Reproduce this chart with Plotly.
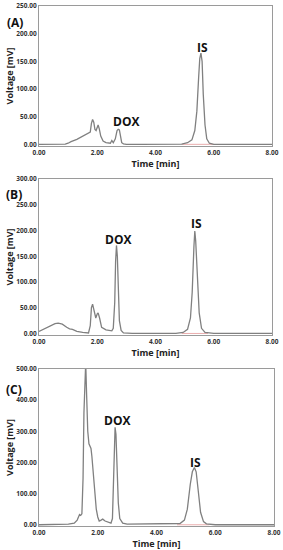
import plotly.graph_objects as go

# ---------------- data ----------------
time_a = [0, 0.5, 0.9, 1.0, 1.1, 1.3, 1.5, 1.7, 1.76, 1.8, 1.84, 1.88, 1.92, 1.96, 2.0, 2.03, 2.07, 2.12,
          2.2, 2.3, 2.45, 2.5, 2.55, 2.62, 2.68, 2.72, 2.76, 2.8, 2.84, 2.9, 3.0, 3.5, 4.0, 4.5, 4.9, 5.1,
          5.25, 5.35, 5.42, 5.48, 5.52, 5.56, 5.6, 5.64, 5.7, 5.76, 5.85, 6.0, 7.0, 8.0]
volt_a = [0, 0, 0.5, 2, 5, 9, 14, 19, 22, 38, 45, 40, 27, 25, 33, 35, 28, 15,
          6, 3, 2, 7, 3, 10, 25, 27, 26, 15, 3, 1, 0, 0, 0, 0, 0.5, 3,
          8, 25, 60, 120, 155, 165, 150, 90, 35, 10, 2, 0, 0, 0]

time_b = [0, 0.2, 0.4, 0.55, 0.66, 0.8, 0.95, 1.05, 1.15, 1.3, 1.5, 1.7, 1.76, 1.8, 1.84, 1.9, 1.95, 2.0,
          2.03, 2.08, 2.15, 2.3, 2.5, 2.55, 2.6, 2.63, 2.66, 2.69, 2.72, 2.76, 2.82, 2.9, 3.2, 4.0, 4.7,
          4.95, 5.1, 5.2, 5.26, 5.32, 5.35, 5.38, 5.43, 5.5, 5.58, 5.7, 6.0, 8.0]
volt_b = [4, 9, 15, 19, 20, 18, 12, 9, 8, 4, 2, 1, 15, 50, 57, 45, 30, 38,
          40, 30, 12, 7, 5, 10, 60, 140, 171, 150, 80, 25, 6, 1, 0, 0, 0,
          2, 8, 30, 80, 170, 199, 180, 110, 40, 10, 2, 0, 0]

time_c = [0, 0.8, 1.0, 1.2, 1.3, 1.38, 1.42, 1.46, 1.5, 1.53, 1.56, 1.59, 1.62, 1.66, 1.7, 1.74, 1.77, 1.8,
          1.85, 1.9, 1.95, 2.0, 2.05, 2.1, 2.17, 2.25, 2.35, 2.45, 2.5, 2.53, 2.56, 2.59, 2.62, 2.66, 2.7,
          2.75, 2.85, 3.0, 3.5, 4.0, 4.5, 4.8, 4.95, 5.05, 5.15, 5.22, 5.29, 5.35, 5.42, 5.5, 5.6, 5.7, 6.0, 8.0]
volt_c = [0, 0, 2, 5, 15, 33, 30, 35, 150, 360, 520, 520, 420, 300, 260, 250, 245, 220,
          160, 100, 50, 25, 12, 14, 18, 12, 8, 5, 20, 120, 250, 313, 290, 180, 70,
          20, 5, 2, 2, 3, 2, 4, 15, 50, 130, 170, 184, 170, 110, 40, 10, 3, 0, 0]

# integration baselines (faint red)
base_a_t = [4.9, 6.0]
base_b_t = [4.9, 5.8]
base_c_t = [4.7, 5.8]
base_v = [0, 0]

panel_labels = ["(A)", "(B)", "(C)"]
y_ranges = [[-3, 250], [-3, 300], [-4, 500]]
y_dticks = [50, 50, 100]
x_ticks = [0, 2, 4, 6, 8]

W, H = 283, 550

def px(x):
    return x / W

def py(y):
    return 1 - y / H

fig = go.Figure()

line_col = "#808080"
series = [(time_a, volt_a, base_a_t), (time_b, volt_b, base_b_t), (time_c, volt_c, base_c_t)]
for i, (t, v, bt) in enumerate(series):
    ax = "" if i == 0 else str(i + 1)
    fig.add_trace(go.Scatter(x=bt, y=base_v, mode="lines", xaxis="x" + ax, yaxis="y" + ax,
                             line=dict(color="rgba(220,120,120,0.6)", width=1), hoverinfo="skip",
                             showlegend=False))
    fig.add_trace(go.Scatter(x=t, y=v, mode="lines", xaxis="x" + ax, yaxis="y" + ax,
                             line=dict(color=line_col, width=1.3), showlegend=False))

# panel frames in pixels: (left, top, right, bottom)
frames = [(39, 6, 272, 146), (39, 179, 272, 335), (39, 369, 274, 526)]

font_fam = "Open Sans, DejaVu Sans, sans-serif"
for i, (l, t, r, b) in enumerate(frames):
    sfx = "" if i == 0 else str(i + 1)
    common_ax = dict(showline=True, mirror=True, linecolor="#9a9a9a", linewidth=1, showgrid=False,
                     zeroline=False, ticks="", tickformat=".2f", automargin=False,
                     tickfont=dict(size=6.5, color="#333", family=font_fam, weight="bold"))
    fig.layout["xaxis" + sfx] = dict(common_ax, domain=[px(l), px(r)], range=[0, 8], tickvals=x_ticks,
                                     anchor="y" + sfx,
                                     title=dict(text="Time [min]", standoff=3 if i < 2 else 1,
                                                font=dict(size=9, color="#222", family=font_fam, weight="bold")))
    fig.layout["yaxis" + sfx] = dict(common_ax, domain=[py(b), py(t)], range=y_ranges[i], dtick=y_dticks[i],
                                     tick0=0, anchor="x" + sfx,
                                     title=dict(text="Voltage [mV]", standoff=1,
                                                font=dict(size=9, color="#222", family=font_fam, weight="bold")))

ann_font = dict(size=12, color="#111", family=font_fam, weight="bold")
annots = [
    ("(A)", 15, 22), ("DOX", 126, 122), ("IS", 202, 47),
    ("(B)", 14, 194), ("DOX", 118, 239), ("IS", 196, 223),
    ("(C)", 14, 389), ("DOX", 117, 420), ("IS", 195, 462),
]
for txt, x, y in annots:
    fig.add_annotation(text=txt, x=px(x), y=py(y), xref="paper", yref="paper", showarrow=False,
                       font=ann_font, xanchor="center", yanchor="middle")

fig.update_layout(width=W, height=H, margin=dict(l=0, r=0, t=0, b=0, autoexpand=False),
                  paper_bgcolor="white", plot_bgcolor="white", showlegend=False)

fig.write_html("out.html", config={"displayModeBar": False},
               post_script="document.body.style.margin='0';document.body.style.overflow='hidden';")
